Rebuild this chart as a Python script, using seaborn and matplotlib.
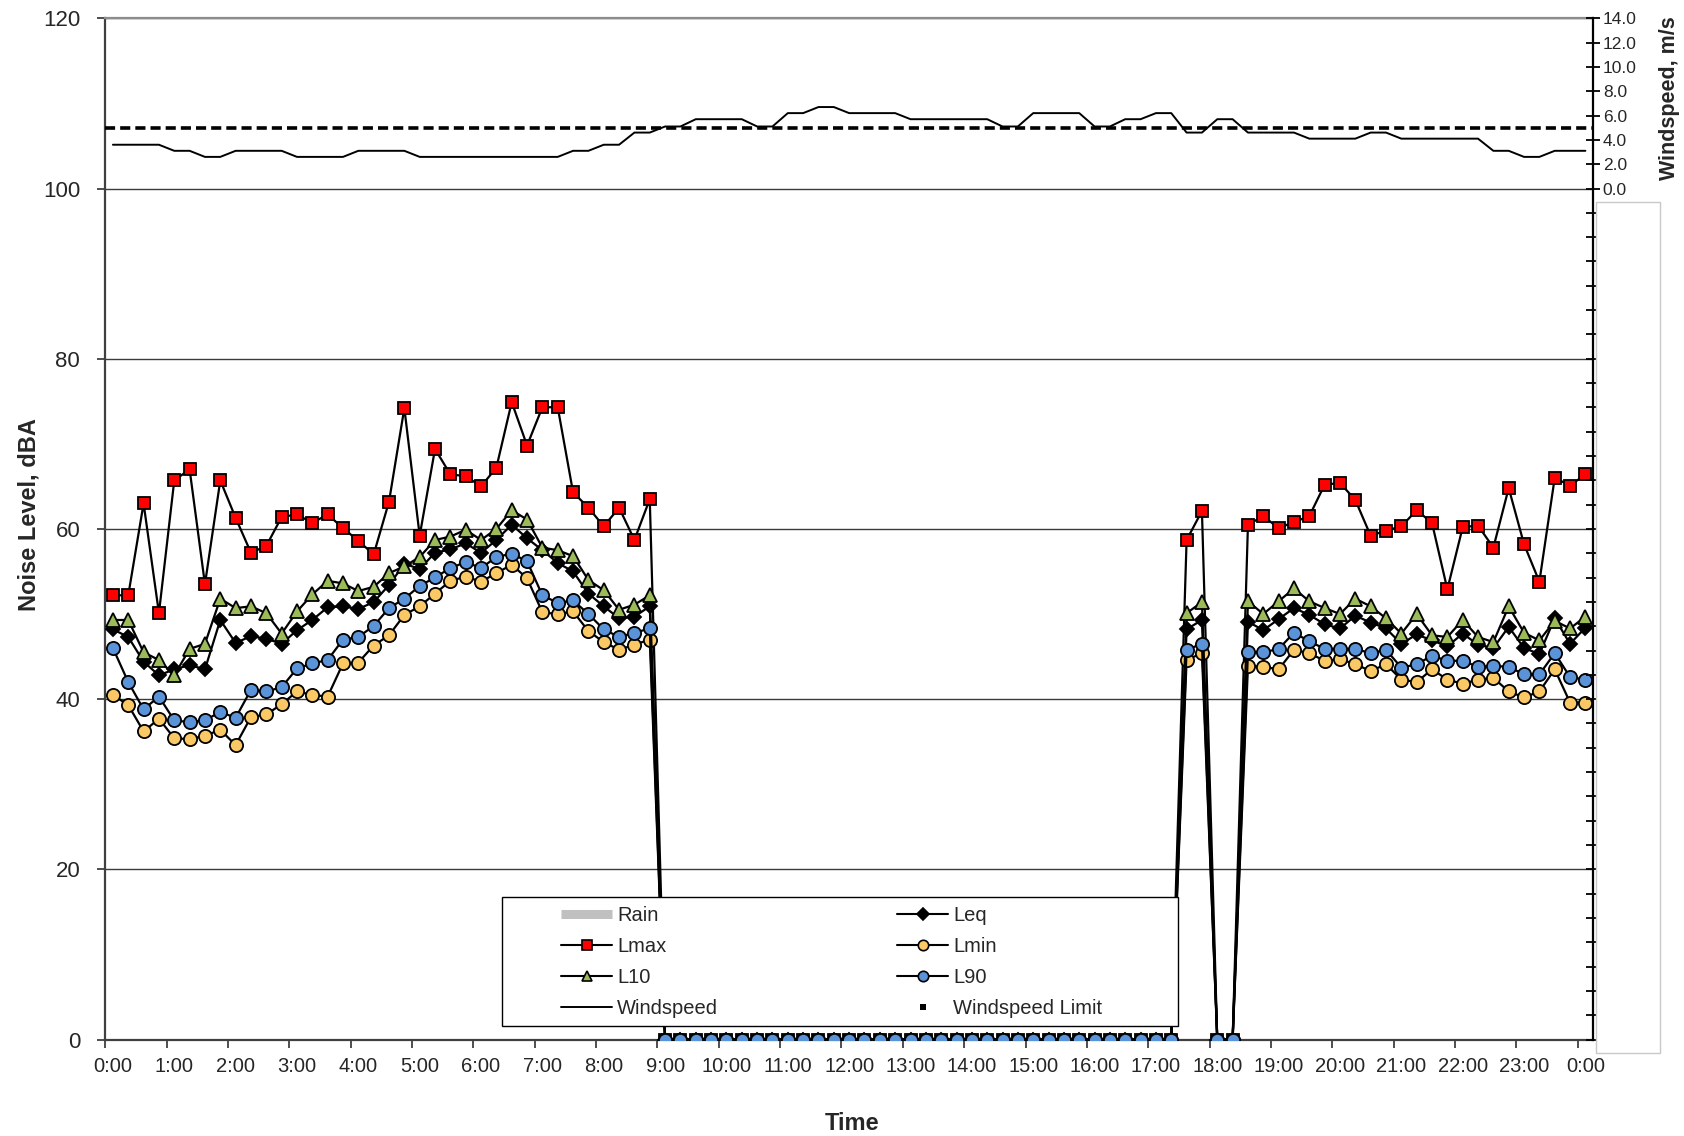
import numpy as np
import matplotlib
matplotlib.use("Agg")
import matplotlib.pyplot as plt
from matplotlib.lines import Line2D
from matplotlib.patches import Rectangle
from matplotlib.ticker import FixedLocator, FuncFormatter, NullFormatter
import seaborn as sns

# ---------------------------------------------------------------------------
# Data: 15-minute slots from 0:00 to 24:00 (97 slots).
# A value of 0 marks a slot without a valid measurement.
# ---------------------------------------------------------------------------
slot_hours = np.arange(97) * 0.25

gap_day = [0.0] * 34      # 9:00 - 17:15
gap_eve = [0.0] * 2       # 18:00 - 18:15

lmax_am = [52.2, 52.2, 63.0, 50.1, 65.7, 67.0, 53.5, 65.7, 61.3, 57.2, 58.0, 61.4,
           61.7, 60.7, 61.7, 60.1, 58.6, 57.0, 63.2, 74.2, 59.2, 69.4, 66.4, 66.2,
           65.0, 67.2, 74.9, 69.8, 74.3, 74.3, 64.3, 62.5, 60.3, 62.5, 58.7, 63.5]
lmax_1730 = [58.7, 62.1]
lmax_pm = [60.5, 61.5, 60.1, 60.8, 61.5, 65.2, 65.4, 63.4, 59.2, 59.8, 60.3, 62.2,
           60.7, 52.9, 60.2, 60.4, 57.8, 64.8, 58.2, 53.8, 66.0, 65.1, 66.4]

l10_am = [49.3, 49.3, 45.5, 44.6, 42.8, 45.9, 46.5, 51.8, 50.7, 50.9, 50.1, 47.7,
          50.3, 52.3, 53.9, 53.6, 52.7, 53.2, 54.8, 55.6, 56.7, 58.7, 59.1, 59.9,
          58.7, 60.0, 62.2, 61.1, 57.8, 57.5, 56.8, 54.0, 52.8, 50.5, 51.1, 52.2]
l10_1730 = [50.1, 51.4]
l10_pm = [51.5, 50.0, 51.5, 53.0, 51.5, 50.7, 50.0, 51.8, 50.9, 49.5, 47.7, 50.0,
          47.5, 47.3, 49.3, 47.3, 46.7, 50.9, 47.8, 46.9, 49.2, 48.3, 49.7]

leq_am = [48.2, 47.3, 44.4, 42.8, 43.5, 44.0, 43.5, 49.3, 46.6, 47.4, 47.1, 46.5,
          48.1, 49.3, 50.8, 50.9, 50.6, 51.4, 53.4, 55.9, 55.3, 57.2, 57.6, 58.3,
          57.2, 58.7, 60.5, 58.9, 57.5, 56.0, 55.0, 52.4, 50.9, 49.5, 49.7, 50.9]
leq_1730 = [48.2, 49.3]
leq_pm = [49.1, 48.1, 49.4, 50.7, 49.9, 48.8, 48.3, 49.8, 49.0, 48.3, 46.5, 47.6,
          46.9, 46.2, 47.7, 46.4, 46.0, 48.5, 46.0, 45.3, 49.5, 46.5, 48.4]

l90_am = [46.0, 42.0, 38.8, 40.3, 37.5, 37.3, 37.5, 38.5, 37.8, 41.1, 40.9, 41.4,
          43.6, 44.2, 44.6, 47.0, 47.3, 48.6, 50.7, 51.8, 53.3, 54.3, 55.4, 56.1,
          55.4, 56.7, 57.1, 56.2, 52.2, 51.3, 51.6, 50.0, 48.2, 47.3, 47.8, 48.3]
l90_1730 = [45.8, 46.5]
l90_pm = [45.5, 45.5, 45.9, 47.8, 46.8, 45.9, 45.9, 45.9, 45.4, 45.8, 43.7, 44.1,
          45.1, 44.5, 44.5, 43.8, 43.9, 43.8, 42.9, 42.9, 45.4, 42.6, 42.3]

lmin_am = [40.5, 39.3, 36.2, 37.7, 35.4, 35.3, 35.7, 36.4, 34.6, 37.9, 38.2, 39.4,
           40.9, 40.5, 40.3, 44.2, 44.3, 46.3, 47.5, 49.9, 50.9, 52.4, 53.9, 54.4,
           53.8, 54.8, 55.8, 54.2, 50.2, 50.0, 50.3, 48.0, 46.7, 45.8, 46.4, 47.0]
lmin_1730 = [44.6, 45.4]
lmin_pm = [43.9, 43.8, 43.5, 45.8, 45.4, 44.5, 44.7, 44.1, 43.3, 44.1, 42.3, 42.0,
           43.5, 42.3, 41.8, 42.3, 42.5, 40.9, 40.2, 40.9, 43.5, 39.6, 39.6]

lmax = lmax_am + gap_day + lmax_1730 + gap_eve + lmax_pm
l10 = l10_am + gap_day + l10_1730 + gap_eve + l10_pm
leq = leq_am + gap_day + leq_1730 + gap_eve + leq_pm
l90 = l90_am + gap_day + l90_1730 + gap_eve + l90_pm
lmin = lmin_am + gap_day + lmin_1730 + gap_eve + lmin_pm

# Windspeed, m/s (same 15-minute slots)
wind = [3.6, 3.6, 3.6, 3.6, 3.1, 3.1, 2.6, 2.6,
        3.1, 3.1, 3.1, 3.1, 2.6, 2.6, 2.6, 2.6,
        3.1, 3.1, 3.1, 3.1, 2.6, 2.6, 2.6, 2.6,
        2.6, 2.6, 2.6, 2.6, 2.6, 2.6, 3.1, 3.1,
        3.6, 3.6, 4.6, 4.6, 5.1, 5.1, 5.7, 5.7,
        5.7, 5.7, 5.1, 5.1, 6.2, 6.2, 6.7, 6.7,
        6.2, 6.2, 6.2, 6.2, 5.7, 5.7, 5.7, 5.7,
        5.7, 5.7, 5.1, 5.1, 6.2, 6.2, 6.2, 6.2,
        5.1, 5.1, 5.7, 5.7, 6.2, 6.2, 4.6, 4.6,
        5.7, 5.7, 4.6, 4.6, 4.6, 4.6, 4.1, 4.1,
        4.1, 4.1, 4.6, 4.6, 4.1, 4.1, 4.1, 4.1,
        4.1, 4.1, 3.1, 3.1, 2.6, 2.6, 3.1, 3.1,
        3.1]
wind_limit = 5.0

hour_positions = [0, 1, 2, 3, 4, 5, 6, 7, 8, 9, 10, 11, 12,
                  13, 14, 15, 16, 17, 18, 19, 20, 21, 22, 23, 24]
hour_labels = ["0:00", "1:00", "2:00", "3:00", "4:00", "5:00", "6:00", "7:00",
               "8:00", "9:00", "10:00", "11:00", "12:00", "13:00", "14:00",
               "15:00", "16:00", "17:00", "18:00", "19:00", "20:00", "21:00",
               "22:00", "23:00", "0:00"]
noise_ticks = [0, 20, 40, 60, 80, 100, 120]

# ---------------------------------------------------------------------------
# Style
# ---------------------------------------------------------------------------
sns.set_style("white")
plt.rcParams["font.family"] = ["Liberation Sans", "DejaVu Sans"]

W, H = 1684, 1136
fig = plt.figure(figsize=(W / 100, H / 100), dpi=100)
ax = fig.add_axes([0.0625, 0.0849, 0.8835, 0.899])
ax2 = ax.twinx()

# ---------------------------------------------------------------------------
# Noise series (drawing order as in the legend rows)
# ---------------------------------------------------------------------------
series = [
    ("Leq", leq, "D", "#000000", 7.5),
    ("Lmax", lmax, "s", "#FF0000", 9.0),
    ("Lmin", lmin, "o", "#FAC864", 9.5),
    ("L10", l10, "^", "#9BBB59", 9.5),
    ("L90", l90, "o", "#5B93D8", 9.5),
]
for name, vals, mk, face, ms in series:
    sns.lineplot(x=slot_hours, y=vals, ax=ax, color="black", linewidth=1.6,
                 marker=mk, markersize=ms, markerfacecolor=face,
                 markeredgecolor="black", markeredgewidth=1.3,
                 legend=False, zorder=3)

# Windspeed on the secondary axis
sns.lineplot(x=slot_hours, y=wind, ax=ax2, color="black", linewidth=1.4,
             legend=False, zorder=3)
ax2.axhline(wind_limit, color="black", linewidth=2.6,
            linestyle=(0, (2.8, 1.4)), dash_capstyle="butt", zorder=3)

# ---------------------------------------------------------------------------
# Axes formatting
# ---------------------------------------------------------------------------
ax.set_xlim(-0.125, 24.125)
ax.set_ylim(0, 120)
ax.set_yticks(noise_ticks)
ax.tick_params(axis="y", direction="out", length=6, width=1.3, color="#404040",
               pad=12, labelsize=16, left=True)

# tick marks sit between slots, labels sit on the hour slot
ax.xaxis.set_major_locator(FixedLocator([h - 0.125 for h in hour_positions]))
ax.xaxis.set_major_formatter(NullFormatter())
ax.xaxis.set_minor_locator(FixedLocator(hour_positions))
ax.xaxis.set_minor_formatter(FuncFormatter(lambda v, p: hour_labels[hour_positions.index(int(round(v)))]))
ax.tick_params(axis="x", which="major", direction="out", length=6, width=1.3,
               color="#404040", bottom=True)
ax.tick_params(axis="x", which="minor", length=0, pad=12.5, labelsize=14.5)

ax.grid(axis="y", color="#3a3a3a", linewidth=1.0)
ax.grid(axis="x", visible=False)
ax.set_axisbelow(True)

for side in ["left", "bottom"]:
    ax.spines[side].set_color("#404040")
    ax.spines[side].set_linewidth(1.6)
ax.spines["top"].set_color("#8c8c8c")
ax.spines["top"].set_linewidth(1.6)
ax.spines["right"].set_visible(False)

ax2.set_ylim(-70, 14)
ax2.set_yticks(np.arange(-70, 15, 2))
ax2.yaxis.set_major_formatter(FuncFormatter(lambda v, p: f"{v:.1f}" if v >= 0 else ""))
ax2.tick_params(axis="y", direction="inout", length=10, width=1.3, color="black",
                pad=2, labelsize=12.5, right=True)
ax2.spines["right"].set_color("black")
ax2.spines["right"].set_linewidth(1.6)
for side in ["left", "top", "bottom"]:
    ax2.spines[side].set_visible(False)
ax2.grid(False)

# Axis titles
fig.text(29 / W, 1 - 515 / H, "Noise Level, dBA", rotation=90, ha="center",
         va="center", fontsize=17, fontweight="bold")
fig.text(852 / W, 1 - 1124 / H, "Time", ha="center", va="center",
         fontsize=17, fontweight="bold")
fig.text(1670 / W, 1 - 98 / H, "Windspeed, m/s", rotation=90, ha="center",
         va="center", fontsize=15.5, fontweight="bold")

# Blank panel beside the lower part of the windspeed scale
fig.add_artist(Rectangle((1596 / W, 1 - 1053 / H), 64 / W, 851 / H,
                         transform=fig.transFigure, facecolor="white",
                         edgecolor="#c8c8c8", linewidth=1.0, zorder=5))

# ---------------------------------------------------------------------------
# Legend: framed box with two columns
# ---------------------------------------------------------------------------
ax.add_patch(Rectangle((0.2667, 0.0133), 0.4543, 0.1263, transform=ax.transAxes,
                       facecolor="white", edgecolor="black", linewidth=1.0,
                       zorder=20))

def marker_handle(mk, face, ms):
    return Line2D([], [], color="black", linewidth=1.5, marker=mk,
                  markersize=ms, markerfacecolor=face, markeredgecolor="black",
                  markeredgewidth=1.2)

col1 = [Line2D([], [], color="#C0C0C0", linewidth=6.5, solid_capstyle="butt"),
        marker_handle("s", "#FF0000", 7.5),
        marker_handle("^", "#9BBB59", 7),
        Line2D([], [], color="black", linewidth=1.4)]
col1_labels = ["Rain", "Lmax", "L10", "Windspeed"]
col2 = [marker_handle("D", "#000000", 6),
        marker_handle("o", "#FAC864", 7.5),
        marker_handle("o", "#5B93D8", 7.5),
        Line2D([], [], linestyle="none", marker="s", markersize=3.8,
               markerfacecolor="black", markeredgecolor="black", markeredgewidth=0)]
col2_labels = ["Leq", "Lmin", "L90", "Windspeed Limit"]

leg_kw = dict(loc="upper left", frameon=False, fontsize=14.5, borderpad=0,
              borderaxespad=0, handlelength=2.55, handletextpad=0.25,
              labelspacing=0.6)
leg1 = ax.legend(col1, col1_labels, bbox_to_anchor=(0.3063, 0.131), **leg_kw)
leg1.set_zorder(21)
ax.add_artist(leg1)
leg2 = ax.legend(col2, col2_labels, bbox_to_anchor=(0.5322, 0.131), **leg_kw)
leg2.set_zorder(21)

fig.savefig("out.png", dpi=100)
